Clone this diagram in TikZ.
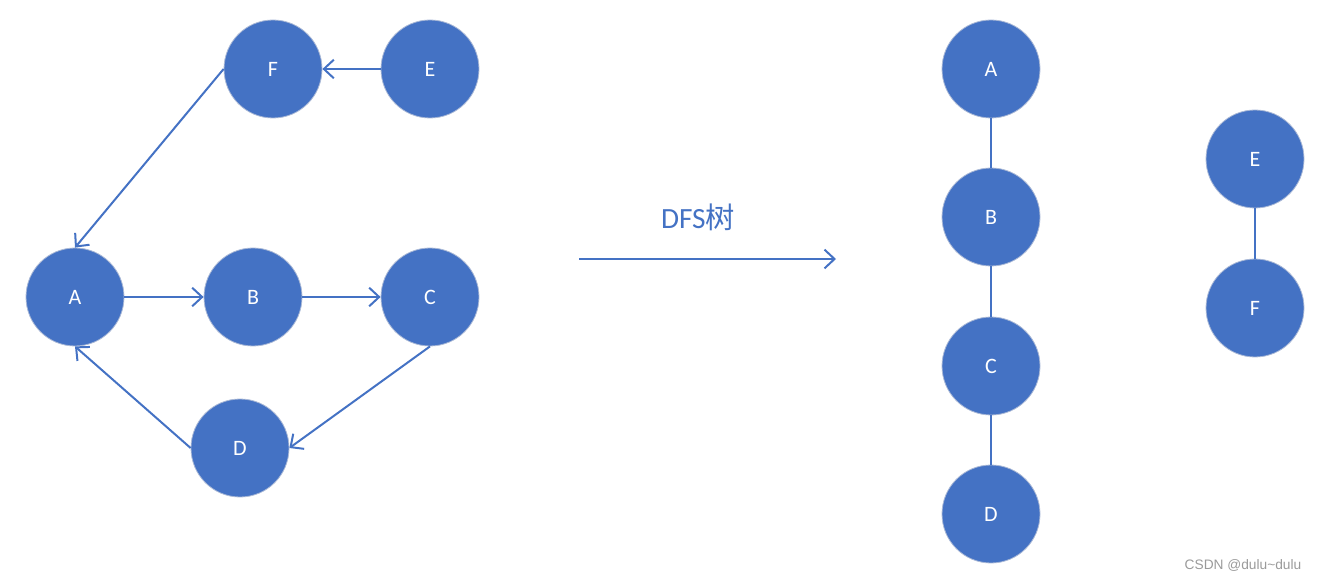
\documentclass[tikz,border=0pt]{standalone}
\usepackage{fontspec}
\setmainfont{Carlito}
\newfontfamily\cjkfont{Noto Sans CJK SC}
\newfontfamily\wmfont{Liberation Sans}
\usetikzlibrary{arrows.meta}
\definecolor{nodeblue}{HTML}{4472C4}
\definecolor{rimblue}{HTML}{A9B8D6}
\definecolor{wmgray}{HTML}{9A9A9A}
\begin{document}
\begin{tikzpicture}[x=0.75pt,y=-0.75pt,
  vert/.style={circle,fill=nodeblue,draw=rimblue,line width=0.6pt,minimum size=73.5pt,inner sep=0pt,text=white,font=\fontsize{16.5}{19}\selectfont},
  edge/.style={draw=nodeblue,line width=1.5pt},
  arr/.style={edge,-{Straight Barb[length=7.5pt,width=14pt,line width=1.5pt]}}]
\useasboundingbox (0,0) rectangle (1319,580);
% left graph
\node[vert] (F) at (273,69) {F};
\node[vert] (E) at (430,69) {E};
\node[vert] (A) at (75,297) {A};
\node[vert] (B) at (253,297) {B};
\node[vert] (C) at (430,297) {C};
\node[vert] (D) at (240,448) {D};
\draw[arr] (E.west) -- (F.east);
\draw[arr] (F.west) -- (A.north);
\draw[arr] (A.east) -- (B.west);
\draw[arr] (B.east) -- (C.west);
\draw[arr] (C.south) -- (D.east);
\draw[arr] (D.west) -- (A.south);
% middle arrow
\coordinate (m1) at (579,259);
\coordinate (m2) at (836,259);
\draw[arr] (m1) -- (m2);
\node[text=nodeblue,font=\fontsize{22}{26}\selectfont] (lbl) at (698,217) {DFS{\cjkfont 树}};
% right forest
\node[vert] (A2) at (991,69) {A};
\node[vert] (B2) at (991,217) {B};
\node[vert] (C2) at (991,366) {C};
\node[vert] (D2) at (991,514) {D};
\node[vert] (E2) at (1255,159) {E};
\node[vert] (F2) at (1255,308) {F};
\draw[edge] (A2) -- (B2);
\draw[edge] (B2) -- (C2);
\draw[edge] (C2) -- (D2);
\draw[edge] (E2) -- (F2);
% watermark
\node[text=wmgray,font=\wmfont\fontsize{10.3}{12}\selectfont] (wm) at (1243,565) {CSDN @dulu\textasciitilde dulu};
\end{tikzpicture}
\end{document}
